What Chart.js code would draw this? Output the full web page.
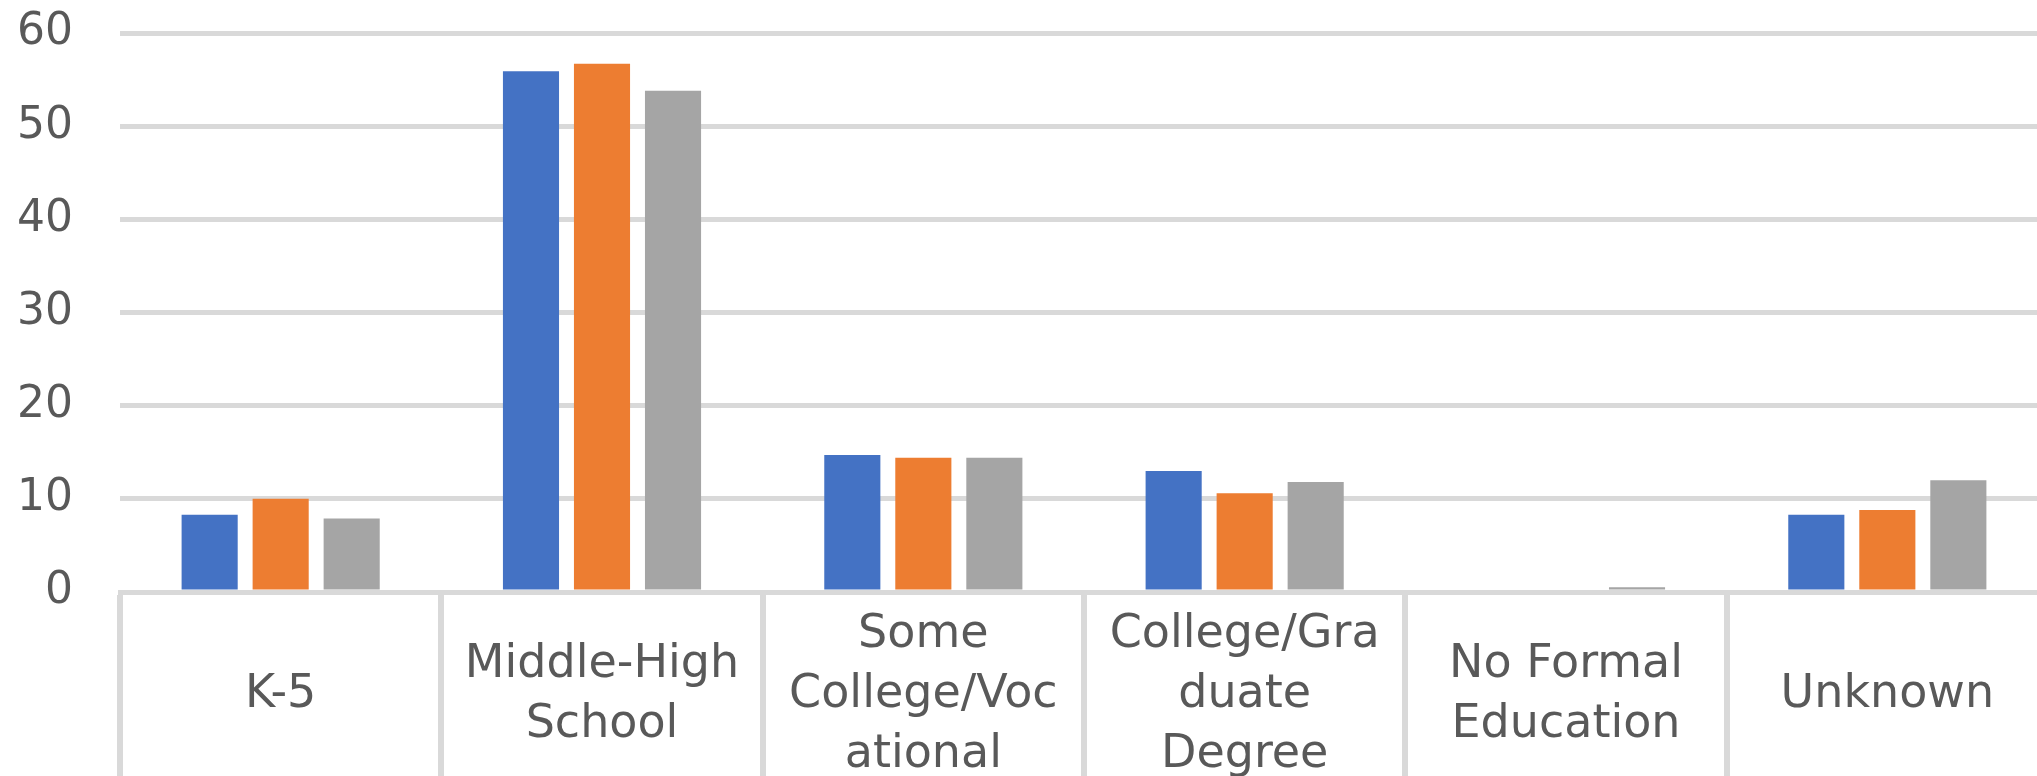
<!DOCTYPE html>
<html>
<head>
<meta charset="utf-8">
<script src="https://cdn.jsdelivr.net/npm/chart.js@4"></script>
<style>
  html, body { margin: 0; padding: 0; background: #ffffff; overflow: hidden; }
  canvas { display: block; }
</style>
</head>
<body>
<canvas id="chart" width="2048" height="776"></canvas>
<script>
// Education level categories (multi-line labels as wrapped on the axis)
const categories = [
  ['K-5'],
  ['Middle-High', 'School'],
  ['Some', 'College/Voc', 'ational'],
  ['College/Gra', 'duate', 'Degree'],
  ['No Formal', 'Education'],
  ['Unknown']
];

// Three series of percentages per category
const series1 = [8.3, 55.9, 14.7, 13.0, 0, 8.3];
const series2 = [10.0, 56.7, 14.4, 10.6, 0, 8.8];
const series3 = [7.9, 53.8, 14.4, 11.8, 0.5, 12.0];

// Value axis ticks
const yTicks = [0, 10, 20, 30, 40, 50, 60];

const gridColor = '#d9d9d9';
const textColor = '#595959';

new Chart(document.getElementById('chart'), {
  type: 'bar',
  data: {
    labels: categories,
    datasets: [
      { label: 'Series 1', data: series1, backgroundColor: '#4472c4' },
      { label: 'Series 2', data: series2, backgroundColor: '#ed7d31' },
      { label: 'Series 3', data: series3, backgroundColor: '#a5a5a5' }
    ]
  },
  options: {
    responsive: false,
    devicePixelRatio: 1,
    animation: false,
    barPercentage: 0.79,
    categoryPercentage: 0.663,
    layout: { padding: { top: 33, right: 0, bottom: 0, left: 0 } },
    plugins: {
      legend: { display: false },
      tooltip: { enabled: false }
    },
    scales: {
      x: {
        offset: true,
        grid: {
          offset: true,
          drawOnChartArea: false,
          drawTicks: true,
          tickLength: 184,
          color: gridColor,
          lineWidth: 6
        },
        border: { display: true, color: gridColor, width: 5 },
        ticks: {
          color: textColor,
          font: { family: 'DejaVu Sans', size: 46, lineHeight: 1.3 },
          maxRotation: 0,
          minRotation: 0,
          autoSkip: false,
          crossAlign: 'center',
          padding: -141
        },
        afterFit: (scale) => {
          scale.height = 184;
          scale.paddingLeft = 0;
          scale.paddingRight = 0;
        }
      },
      y: {
        min: yTicks[0],
        max: yTicks[yTicks.length - 1],
        afterBuildTicks: (scale) => { scale.ticks = yTicks.map(v => ({ value: v })); },
        grid: {
          color: gridColor,
          lineWidth: 5,
          drawTicks: false
        },
        border: { display: false },
        ticks: {
          color: textColor,
          font: { family: 'DejaVu Sans', size: 44 },
          padding: 47
        },
        afterFit: (scale) => {
          scale.width = 120;
          scale.paddingTop = 0;
          scale.paddingBottom = 0;
        }
      }
    }
  }
});
</script>
</body>
</html>
